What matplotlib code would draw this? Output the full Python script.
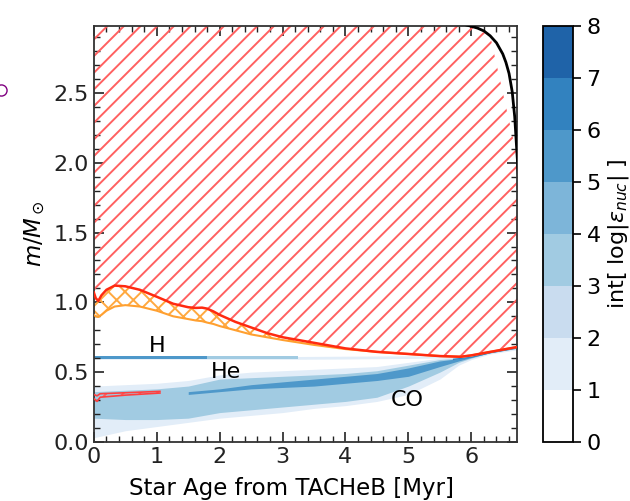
import numpy as np
import matplotlib
matplotlib.use("Agg")
import matplotlib.pyplot as plt
from matplotlib.colors import ListedColormap, BoundaryNorm
from matplotlib.cm import ScalarMappable
from matplotlib.ticker import MultipleLocator
from matplotlib.lines import Line2D

plt.rcParams["hatch.linewidth"] = 1.4

# burning-level colours (int log|eps_nuc| = 0..7)
level_colors = ["#ffffff", "#e2edf8", "#c9dcef", "#a1cbe2",
                "#7db5d9", "#4e98ca", "#3282bf", "#1f63a8"]

# convective envelope boundary (red) and overshoot lower edge (orange)
t_env = [0, 0.03, 0.07, 0.12, 0.2, 0.33, 0.5, 0.73, 1.0, 1.26, 1.5, 1.62, 1.72,
         1.8, 1.9, 2.0, 2.25, 2.5, 2.75, 3.0, 3.5, 4.0, 4.5, 5.0, 5.5, 5.83,
         6.0, 6.3, 6.73]
m_env_top = [1.07, 1.03, 1.01, 1.05, 1.09, 1.12, 1.115, 1.09, 1.04, 0.99, 0.965,
             0.96, 0.962, 0.955, 0.935, 0.91, 0.86, 0.82, 0.78, 0.75, 0.71, 0.67,
             0.645, 0.63, 0.615, 0.61, 0.62, 0.645, 0.68]
m_env_bot = [0.91, 0.9, 0.895, 0.91, 0.94, 0.97, 0.98, 0.97, 0.94, 0.90, 0.88,
             0.87, 0.865, 0.855, 0.845, 0.83, 0.80, 0.77, 0.75, 0.73, 0.695, 0.665,
             0.645, 0.63, 0.615, 0.61, 0.62, 0.645, 0.68]

# total mass
t_mass = [0, 5.9, 6.0, 6.1, 6.2, 6.3, 6.4, 6.5, 6.55, 6.6, 6.65, 6.69, 6.72, 6.75]
m_mass = [3.0, 2.99, 2.978, 2.965, 2.945, 2.91, 2.86, 2.78, 2.72, 2.64, 2.51,
          2.33, 2.11, 1.9]

# He-core burning bands
t_core = [0, 0.5, 1.0, 1.5, 2.0, 2.5, 3.0, 3.5, 4.0, 4.5, 5.0, 5.5, 5.8, 6.0, 6.3, 6.73]
l1_lo = [0.03, 0.08, 0.11, 0.14, 0.17, 0.19, 0.21, 0.24, 0.26, 0.29, 0.34, 0.45, 0.55, 0.59, 0.63, 0.66]
l1_hi = [0.40, 0.41, 0.42, 0.44, 0.48, 0.50, 0.51, 0.52, 0.53, 0.54, 0.57, 0.60, 0.61, 0.62, 0.65, 0.69]
l3_lo = [0.17, 0.16, 0.16, 0.17, 0.21, 0.23, 0.25, 0.27, 0.29, 0.32, 0.40, 0.50, 0.57, 0.60, 0.64, 0.67]
l3_hi = [0.36, 0.37, 0.38, 0.40, 0.45, 0.46, 0.47, 0.48, 0.49, 0.51, 0.55, 0.59, 0.60, 0.615, 0.645, 0.685]

t_dark = [1.5, 2.0, 2.5, 3.0, 3.5, 4.0, 4.5, 5.0, 5.5, 5.8, 6.0, 6.3, 6.73]
l5_lo = [0.34, 0.36, 0.38, 0.39, 0.40, 0.42, 0.44, 0.47, 0.54, 0.58, 0.605, 0.64, 0.675]
l5_hi = [0.36, 0.38, 0.41, 0.43, 0.45, 0.47, 0.49, 0.53, 0.58, 0.597, 0.612, 0.645, 0.68]

t_edge = [5.7, 6.0, 6.3, 6.73]
l6_lo = [0.59, 0.607, 0.638, 0.672]
l6_hi = [0.60, 0.614, 0.646, 0.682]

# H-burning shell
t_h = [0, 1.8, 3.25, 4.0, 5.0, 5.8]
h_lo = [0.592, 0.592, 0.592, 0.594, 0.598, 0.603]
h_hi = [0.612, 0.612, 0.612, 0.614, 0.617, 0.612]
h_lvl_ends = [1.8, 3.25, 5.8]   # level 5 up to 1.8, level 3 up to 3.25, level 1 after

# small convective core
t_cc = [0, 0.05, 0.1, 0.5, 1.05]
cc_lo = [0.31, 0.29, 0.32, 0.335, 0.35]
cc_hi = [0.34, 0.33, 0.345, 0.352, 0.362]

fig = plt.figure(figsize=(6.3, 5.01), dpi=100)
ax = fig.add_axes([0.149, 0.118, 0.672, 0.830])
cax = fig.add_axes([0.862, 0.118, 0.048, 0.830])

# blue burning regions
ax.fill_between(t_core, l1_lo, l1_hi, color=level_colors[1], lw=0, zorder=1)
ax.fill_between(t_core, l3_lo, l3_hi, color=level_colors[3], lw=0, zorder=1.1)
ax.fill_between(t_dark, l5_lo, l5_hi, color=level_colors[5], lw=0, zorder=1.2)
ax.fill_between(t_edge, l6_lo, l6_hi, color=level_colors[6], lw=0, zorder=1.3)

th = np.array(t_h)
ax.fill_between(th, h_lo, h_hi, color=level_colors[1], lw=0, zorder=1)
ax.fill_between(th, h_lo, h_hi, where=th <= h_lvl_ends[1], color=level_colors[3],
                lw=0, zorder=1.1)
ax.fill_between(th, h_lo, h_hi, where=th <= h_lvl_ends[0], color=level_colors[5],
                lw=0, zorder=1.2)

# convective envelope
ax.fill_between(t_env, m_env_top, np.interp(t_env, t_mass, m_mass),
                facecolor="none", edgecolor="#ff6060", hatch="//", lw=0, zorder=2)
# overshoot region
ax.fill_between(t_env, m_env_bot, m_env_top, facecolor="none",
                edgecolor="#ffa940", hatch="xx", lw=0, zorder=2)
ax.plot(t_env, m_env_bot, color="#ffa030", lw=1.5, zorder=3)
ax.plot(t_env, m_env_top, color="#ff2a10", lw=1.8, zorder=4)

# convective core
ax.fill_between(t_cc, cc_lo, cc_hi, facecolor="none", edgecolor="#ff6060",
                hatch="//", lw=0, zorder=2)
ax.plot(t_cc, cc_lo, color="#ff4040", lw=1.2, zorder=3)
ax.plot(t_cc, cc_hi, color="#ff4040", lw=1.2, zorder=3)

ax.plot(t_mass, m_mass, color="black", lw=2, zorder=5)

ax.text(1.0, 0.69, "H", fontsize=16, ha="center", va="center")
ax.text(2.1, 0.50, "He", fontsize=16, ha="center", va="center")
ax.text(4.98, 0.30, "CO", fontsize=16, ha="center", va="center")

ax.set_xlim(0, 6.73)
ax.set_ylim(0, 2.98)
ax.xaxis.set_major_locator(MultipleLocator(1))
ax.xaxis.set_minor_locator(MultipleLocator(0.2))
ax.yaxis.set_major_locator(MultipleLocator(0.5))
ax.yaxis.set_minor_locator(MultipleLocator(0.1))
ax.tick_params(which="both", direction="in", top=True, right=True,
               labelsize=16, colors="#222222")
ax.tick_params(which="major", length=7, width=1.2)
ax.tick_params(which="minor", length=4, width=1)
for s in ax.spines.values():
    s.set_linewidth(1.3)
    s.set_color("#333333")
ax.set_xlabel("Star Age from TACHeB [Myr]", fontsize=16.5)
ax.xaxis.set_label_coords(0.467, -0.085)
ax.set_ylabel(r"$m/M_\odot$", fontsize=16.5)

cmap = ListedColormap(level_colors)
norm = BoundaryNorm(np.arange(0, 9), cmap.N)
cb = fig.colorbar(ScalarMappable(norm=norm, cmap=cmap), cax=cax, ticks=range(9))
cb.ax.tick_params(labelsize=16, length=6, width=1.2)
cb.outline.set_linewidth(1.3)
cb.set_label(r"int[ log|$\epsilon_{nuc}$| ]", fontsize=16)

# clipped purple marker at the left edge
fig.add_artist(Line2D([0.001], [1 - 90 / 501], transform=fig.transFigure,
                      marker="o", markersize=8, markerfacecolor="none",
                      markeredgecolor="purple", linestyle="none"))

fig.savefig("out.png", dpi=100)
